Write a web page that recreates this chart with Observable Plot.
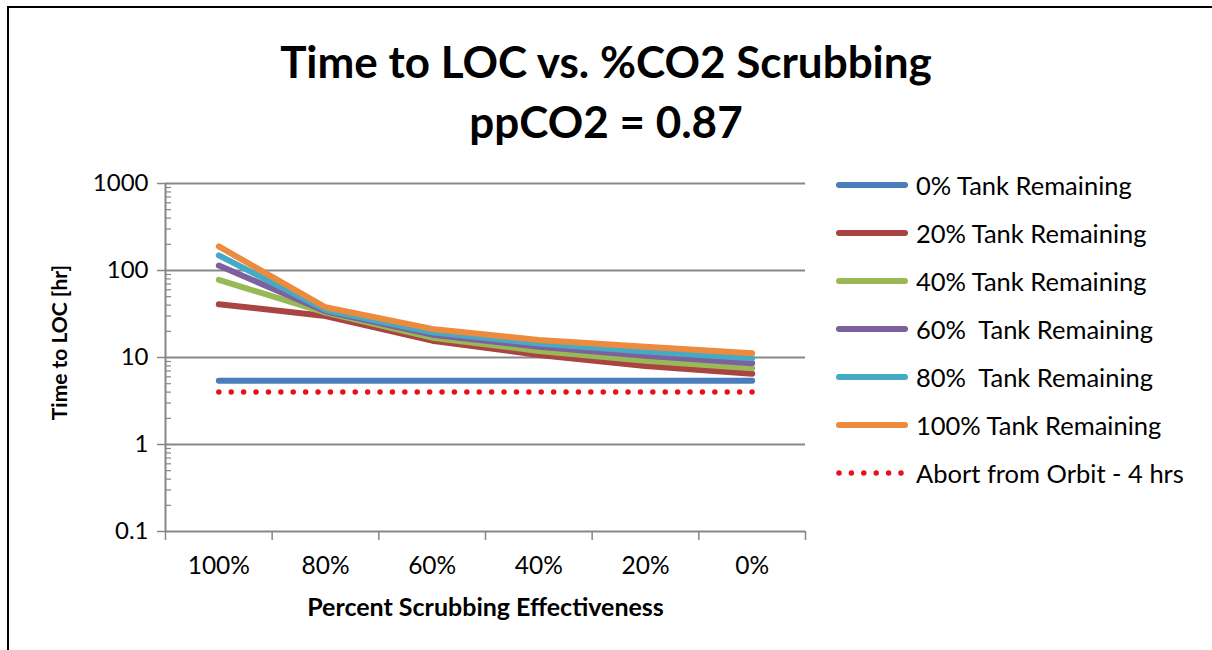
<!DOCTYPE html>
<html>
<head>
<meta charset="utf-8">
<script src="https://cdn.jsdelivr.net/npm/d3@7"></script>
<script src="https://cdn.jsdelivr.net/npm/@observablehq/plot@0.6"></script>
<style>
  html, body { margin: 0; padding: 0; background: #fff; overflow: hidden; }
  #page { width: 1212px; height: 650px; overflow: hidden; position: relative; font-family: Lato, "Open Sans", sans-serif; color: #000; background: #fff; }
  #frame { position: absolute; left: 7px; top: 6px; width: 1400px; height: 900px; border-left: 2px solid #000; border-top: 2px solid #000; }
  #title { position: absolute; left: 0; top: 31px; width: 1212px; text-align: center; font-weight: bold; font-size: 44px; line-height: 60px; }
  #chart { position: absolute; left: 0; top: 150px; }
  #legend { position: absolute; left: 0; top: 0; }
  .item { position: absolute; left: 833px; height: 48px; display: flex; align-items: center; white-space: pre; font-size: 25.5px; }
  .item svg { display: block; margin-right: 5px; }
</style>
</head>
<body>
<div id="page">
<div id="frame"></div>
<div id="title">Time to LOC vs. %CO2 Scrubbing<br>ppCO2 = 0.87</div>
<div id="chart"></div>
<div id="legend"></div>
</div>
<script>
// ---- data ----
const scrubbing = ["100%", "80%", "60%", "40%", "20%", "0%"];
const tank0   = [5.4, 5.4, 5.4, 5.4, 5.4, 5.4];
const tank20  = [41, 30, 15.6, 10.7, 8.0, 6.5];
const tank40  = [78, 32.8, 16.9, 11.9, 9.2, 7.5];
const tank60  = [114, 34, 18.3, 13.3, 10.5, 8.6];
const tank80  = [149, 35.2, 19.5, 14.5, 11.7, 9.8];
const tank100 = [189, 37.8, 21.3, 15.9, 13.3, 11.2];
const abortHrs = [4, 4, 4, 4, 4, 4];
const seriesNames = ["0% Tank Remaining", "20% Tank Remaining", "40% Tank Remaining", "60%  Tank Remaining", "80%  Tank Remaining", "100% Tank Remaining"];
const seriesColors = ["#4A7EBB", "#A94442", "#98B954", "#7D60A0", "#46AAC5", "#EC8B3D"];
const abortName = "Abort from Orbit - 4 hrs";
const abortColor = "#E8101A";
const yTicks = [0.1, 1, 10, 100, 1000];
const yLabel = "Time to LOC [hr]";
const xLabel = "Percent Scrubbing Effectiveness";

// ---- derived tables ----
const allSeries = [tank0, tank20, tank40, tank60, tank80, tank100];
const rows = allSeries.flatMap((vals, s) => vals.map((v, i) => ({s: seriesNames[s], i, v})));
const abortRows = abortHrs.map((v, i) => ({i, v}));
const xDomain = [-0.5, scrubbing.length - 0.5];
const boundaries = d3.range(scrubbing.length + 1).map(i => i - 0.5);
const minorTicks = yTicks.slice(0, -1).flatMap(d => d3.range(2, 10).map(k => d * k));
const gridColor = "#878787";

const chart = Plot.plot({
  width: 830,
  height: 500,
  marginLeft: 165,
  marginRight: 25,
  marginTop: 33,
  marginBottom: 119,
  x: {type: "linear", domain: xDomain, axis: null},
  y: {type: "log", domain: [0.1, 1000], axis: null},
  color: {domain: seriesNames, range: seriesColors},
  style: {fontFamily: "Lato, 'Open Sans', sans-serif", fontSize: "24px", color: "#000", background: "transparent", overflow: "visible"},
  marks: [
    Plot.ruleY(yTicks, {stroke: gridColor, strokeWidth: 2}),
    Plot.ruleX([xDomain[0]], {stroke: gridColor, strokeWidth: 2}),
    Plot.axisY(yTicks, {tickSize: 8, tickPadding: 9, stroke: gridColor, strokeWidth: 1.5, tickFormat: d => String(d), label: null, fontSize: 24}),
    Plot.axisY(minorTicks, {tickSize: 6, dx: 6, stroke: gridColor, strokeWidth: 1.2, tickFormat: () => "", label: null}),
    Plot.axisX(boundaries, {tickSize: 9, stroke: gridColor, strokeWidth: 1.5, tickFormat: () => "", label: null}),
    Plot.axisX(d3.range(scrubbing.length), {tickSize: 0, tickPadding: 25, tickFormat: i => scrubbing[i], label: null, fontSize: 24.5}),
    Plot.line(rows, {x: "i", y: "v", z: "s", stroke: "s", strokeWidth: 6, strokeLinecap: "round", strokeLinejoin: "round"}),
    Plot.line(abortRows, {x: "i", y: "v", stroke: abortColor, strokeWidth: 5.5, strokeDasharray: "0 12.4", strokeLinecap: "round"}),
    Plot.text([yLabel], {text: d => d, frameAnchor: "left", textAnchor: "middle", lineAnchor: "middle", rotate: -90, dx: -105, dy: -15, fontWeight: "bold", fontSize: 21}),
    Plot.text([xLabel], {text: d => d, frameAnchor: "bottom", textAnchor: "middle", lineAnchor: "middle", dy: 76, fontWeight: "bold", fontSize: 25})
  ]
});
document.getElementById("chart").appendChild(chart);

// ---- legend ----
const legend = document.getElementById("legend");
const items = seriesNames.map((name, k) => ({name, color: seriesColors[k], dotted: false}))
  .concat([{name: abortName, color: abortColor, dotted: true}]);
items.forEach((it, k) => {
  const row = document.createElement("div");
  row.className = "item";
  row.style.top = (185 + 48 * k - 24) + "px";
  const ns = "http://www.w3.org/2000/svg";
  const svg = document.createElementNS(ns, "svg");
  svg.setAttribute("width", "78");
  svg.setAttribute("height", "12");
  const line = document.createElementNS(ns, "line");
  line.setAttribute("x1", "6");
  line.setAttribute("x2", it.dotted ? "68" : "72");
  line.setAttribute("y1", "6");
  line.setAttribute("y2", "6");
  line.setAttribute("stroke", it.color);
  line.setAttribute("stroke-linecap", "round");
  if (it.dotted) {
    line.setAttribute("stroke-width", "5.5");
    line.setAttribute("stroke-dasharray", "0 12.4");
  } else {
    line.setAttribute("stroke-width", "6");
  }
  svg.appendChild(line);
  const span = document.createElement("span");
  span.textContent = it.name;
  row.appendChild(svg);
  row.appendChild(span);
  legend.appendChild(row);
});
</script>
</body>
</html>
